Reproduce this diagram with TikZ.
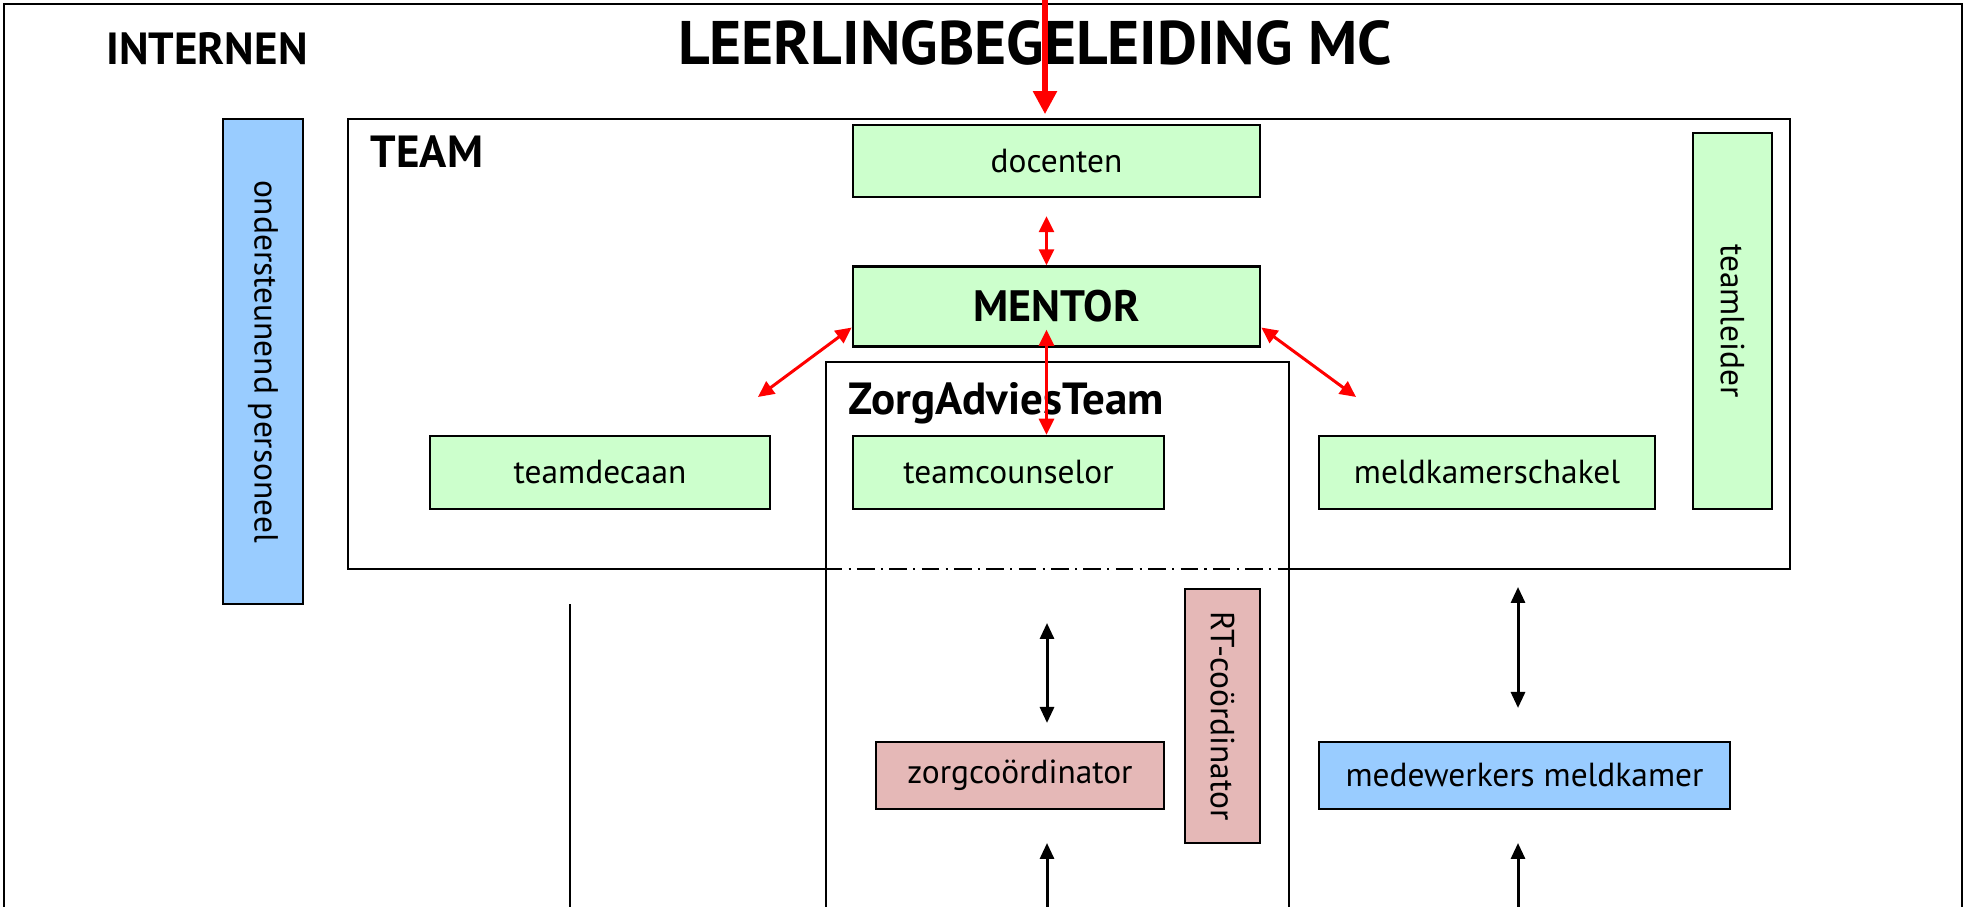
\documentclass[tikz,border=0pt]{standalone}
\usepackage{fontspec}
\setmainfont{PT Sans}
\usetikzlibrary{arrows.meta,positioning}

\definecolor{groen}{HTML}{CCFFCC}
\definecolor{blauw}{HTML}{99CCFF}
\definecolor{roze}{HTML}{E5B8B7}

\begin{document}
\begin{tikzpicture}[x=0.01cm,y=0.01cm,
  box/.style={draw,line width=0.7pt,inner sep=0pt,font=\fontsize{9.5}{11}\selectfont},
  lid/.style={box,fill=groen},
  staf/.style={box,fill=blauw},
  zorg/.style={box,fill=roze},
  kop/.style={inner sep=0pt,font=\bfseries\fontsize{12.8}{15}\selectfont},
  kader/.style={line width=0.7pt},
  rood/.style={red,line width=0.85pt,{Triangle[length=0.16cm,width=0.15cm]}-{Triangle[length=0.16cm,width=0.15cm]}},
  zwart/.style={line width=0.85pt,{Triangle[length=0.16cm,width=0.14cm]}-{Triangle[length=0.16cm,width=0.14cm]}}]
\path[use as bounding box,clip] (0,0) rectangle (1966,907);

% outer frame, open at the bottom
\draw[kader] (4,-10) -- (4,903) -- (1962,903) -- (1962,-10);

\node[anchor=base,inner sep=0pt,font=\bfseries\fontsize{17.5}{20}\selectfont] (titel) at (1035,842) {LEERLINGBEGELEIDING MC};
\node[anchor=base,kop] (internen) at (207,842) {INTERNEN};

% frames
\node[minimum width=14.40cm,minimum height=4.48cm,inner sep=0pt] (team) at (1069,563) {};
\node[draw,kader,minimum width=4.63cm,minimum height=6cm,inner sep=0pt] (zat) at (1057.5,245) {};
\draw[kader] (zat.west |- team.south) -- (team.south west) -- (team.north west) -- (team.north east) -- (team.south east) -- (zat.east |- team.south);
\draw[kader,dash pattern=on 5pt off 1.8pt on 0.6pt off 1.8pt] (zat.west |- team.south) -- (zat.east |- team.south);
\node[anchor=base west,kop] (teamlabel) at (370,739) {TEAM};
\node[anchor=base west,kop] (zatlabel) at (848,492) {ZorgAdviesTeam};

% boxes
\node[lid,minimum width=4.07cm,minimum height=0.72cm] (docenten) at (1056.5,746) {docenten};
\node[lid,minimum width=4.07cm,minimum height=0.80cm,font=\bfseries\fontsize{12.5}{15}\selectfont] [below=0.67cm of docenten] (mentor) {MENTOR};
\node[lid,minimum width=3.40cm,minimum height=0.73cm] (decaan) at (600,434.5) {teamdecaan};
\node[lid,minimum width=3.11cm,minimum height=0.73cm] (counselor) at (1008.5,434.5) {teamcounselor};
\node[lid,minimum width=3.36cm,minimum height=0.73cm] (schakel) at (1487,434.5) {meldkamerschakel};
\node[lid,rotate=-90,minimum width=3.76cm,minimum height=0.79cm] (teamleider) at (1732.5,586) {teamleider};
\node[staf,rotate=-90,minimum width=4.85cm,minimum height=0.80cm] (personeel) at (263,545.5) {ondersteunend personeel};
\node[zorg,minimum width=2.88cm,minimum height=0.67cm] (zorgcoord) at (1020,131.5) {zorgcoördinator};
\node[zorg,rotate=-90,minimum width=2.54cm,minimum height=0.75cm] (rtcoord) at (1222.5,191) {RT-coördinator};
\node[staf,minimum width=4.11cm,minimum height=0.67cm] (meldkamer) at (1524.5,131.5) {medewerkers meldkamer};

% red links
\coordinate (boven) at (1045,920);
\coordinate (mid) at ([xshift=-0.1cm]mentor.south);
\coordinate (decaanpijl) at (758,510);
\coordinate (schakelpijl) at (1356,510);
\draw[red,line width=1.5pt,-{Triangle[length=0.23cm,width=0.23cm]},shorten >=0.05cm] (boven) -- (boven |- team.north);
\draw[rood] ([xshift=-0.1cm,yshift=-0.18cm]docenten.south) -- ([xshift=-0.1cm]mentor.north);
\draw[rood] ([yshift=0.18cm]mid) -- (mid |- counselor.north);
\draw[rood] (decaanpijl) -- ([yshift=-0.21cm]mentor.west);
\draw[rood] (schakelpijl) -- ([yshift=-0.21cm]mentor.east);

% black links
\coordinate (zat1) at (1047,284);
\coordinate (zat2) at (1047,184);
\coordinate (zat3) at (1047,-10);
\coordinate (zat4) at (1047,64);
\coordinate (mk1) at (1518,320);
\coordinate (mk2) at (1518,199);
\coordinate (mk3) at (1518,-10);
\coordinate (mk4) at (1518,64);
\coordinate (lijn1) at (570,-10);
\coordinate (lijn2) at (570,303);
\draw[zwart] (zat1) -- (zat2);
\draw[zwart,{Triangle[length=0.16cm,width=0.14cm]}-] (zat4) -- (zat3);
\draw[zwart] (mk1) -- (mk2);
\draw[zwart,{Triangle[length=0.16cm,width=0.14cm]}-] (mk4) -- (mk3);
\draw[kader] (lijn1) -- (lijn2);
\end{tikzpicture}
\end{document}
